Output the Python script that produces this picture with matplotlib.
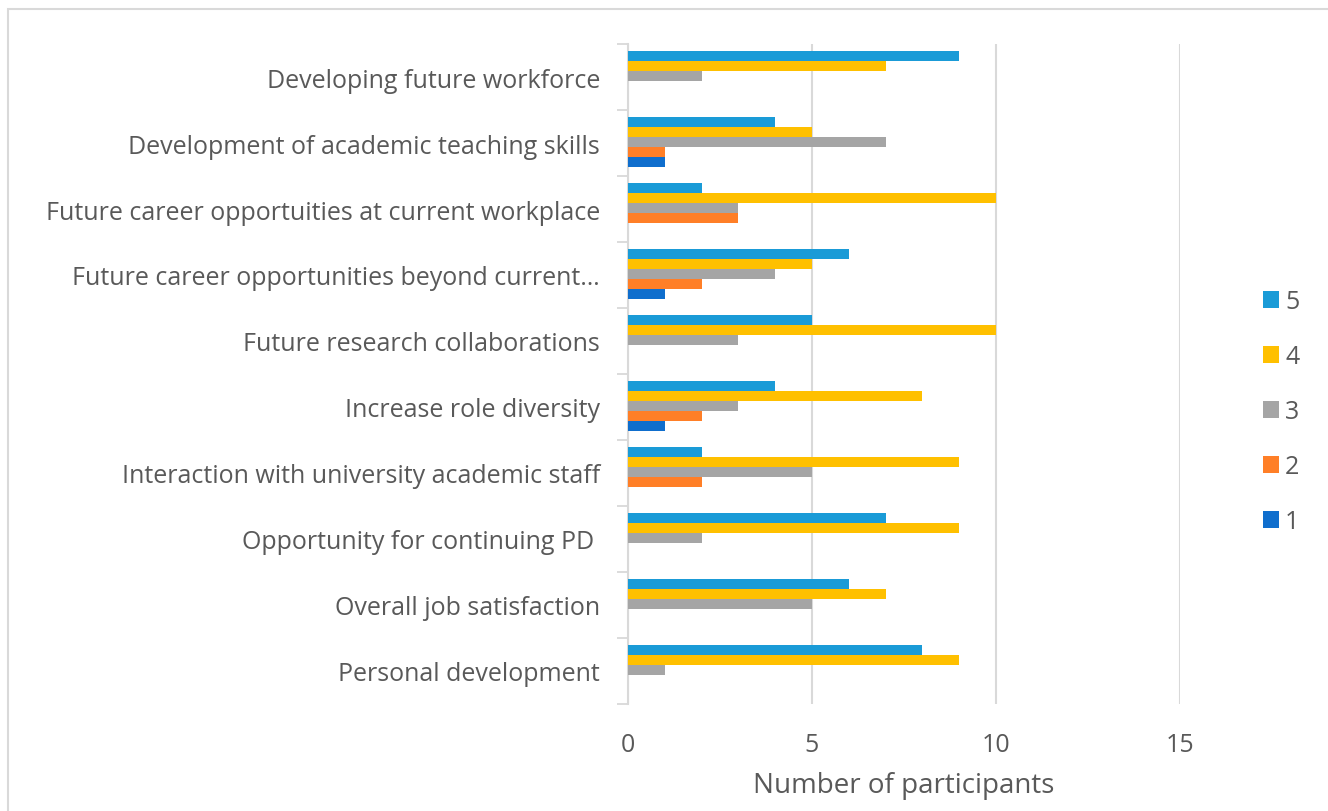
import matplotlib
matplotlib.use("Agg")
import matplotlib.pyplot as plt
import numpy as np
from matplotlib.patches import Rectangle

categories = [
    "Developing future workforce",
    "Development of academic teaching skills",
    "Future career opportuities at current workplace",
    "Future career opportunities beyond current\u2026",
    "Future research collaborations",
    "Increase role diversity",
    "Interaction with university academic staff",
    "Opportunity for continuing PD ",
    "Overall job satisfaction",
    "Personal development",
]
series_names = ["5", "4", "3", "2", "1"]
s5 = [9, 4, 2, 6, 5, 4, 2, 7, 6, 8]
s4 = [7, 5, 10, 5, 10, 8, 9, 9, 7, 9]
s3 = [2, 7, 3, 4, 3, 3, 5, 2, 5, 1]
s2 = [0, 1, 3, 2, 0, 2, 2, 0, 0, 0]
s1 = [0, 1, 0, 1, 0, 1, 0, 0, 0, 0]
x_ticks = [0, 5, 10, 15]
x_label = "Number of participants"

colors = ["#1A9BD7", "#FFC000", "#A5A5A5", "#FF7F27", "#0F6ECD"]
data = [s5, s4, s3, s2, s1]

plt.rcParams['font.family'] = ['Open Sans', 'DejaVu Sans']
fig = plt.figure(figsize=(13.28, 8.12), dpi=100)
ax = fig.add_axes([628/1328, 1-705/812, (1180-628)/1328, (705-45)/812])

n = len(categories)
y = np.arange(n)
h = 0.152
offsets = [-2*h, -h, 0, h, 2*h]
for vals, off, col, name in zip(data, offsets, colors, series_names):
    ax.barh(y + off - 0.01, vals, height=h, color=col, label=name, zorder=3)

ax.set_ylim(n - 0.5, -0.5)
ax.set_xlim(0, 15)
ax.set_xticks(x_ticks)
ax.set_xticklabels([str(t) for t in x_ticks], fontsize=18, color="#595959")
ax.tick_params(axis='x', length=0, pad=20)
ax.set_yticks(y)
ax.set_yticklabels(categories, fontsize=18, color="#595959")
ax.tick_params(axis='y', which='major', length=0, pad=20)
ax.set_yticks(np.arange(-0.5, n, 1), minor=True)
ax.tick_params(axis='y', which='minor', length=8, width=1.3, color="#D9D9D9")
ax.grid(axis='x', color="#D9D9D9", linewidth=1.5, zorder=0)
for s in ["top", "right", "bottom"]:
    ax.spines[s].set_visible(False)
ax.spines["left"].set_color("#D9D9D9")
ax.spines["left"].set_linewidth(1.5)
ax.set_xlabel(x_label, fontsize=20, color="#595959", labelpad=10)

handles, labels = ax.get_legend_handles_labels()
leg = fig.legend(handles, labels, loc="center left", bbox_to_anchor=(1240/1328, 1-413/812),
                 frameon=False, fontsize=18, labelcolor="#595959", handlelength=0.65,
                 handleheight=0.65, handletextpad=0.25, labelspacing=1.2)

fig.patches.append(Rectangle((8/1328, -0.01), 1.1, 1-10/812 + 0.01, transform=fig.transFigure,
                             fill=False, edgecolor="#D9D9D9", linewidth=1.5))

fig.savefig("out.png", dpi=100)
